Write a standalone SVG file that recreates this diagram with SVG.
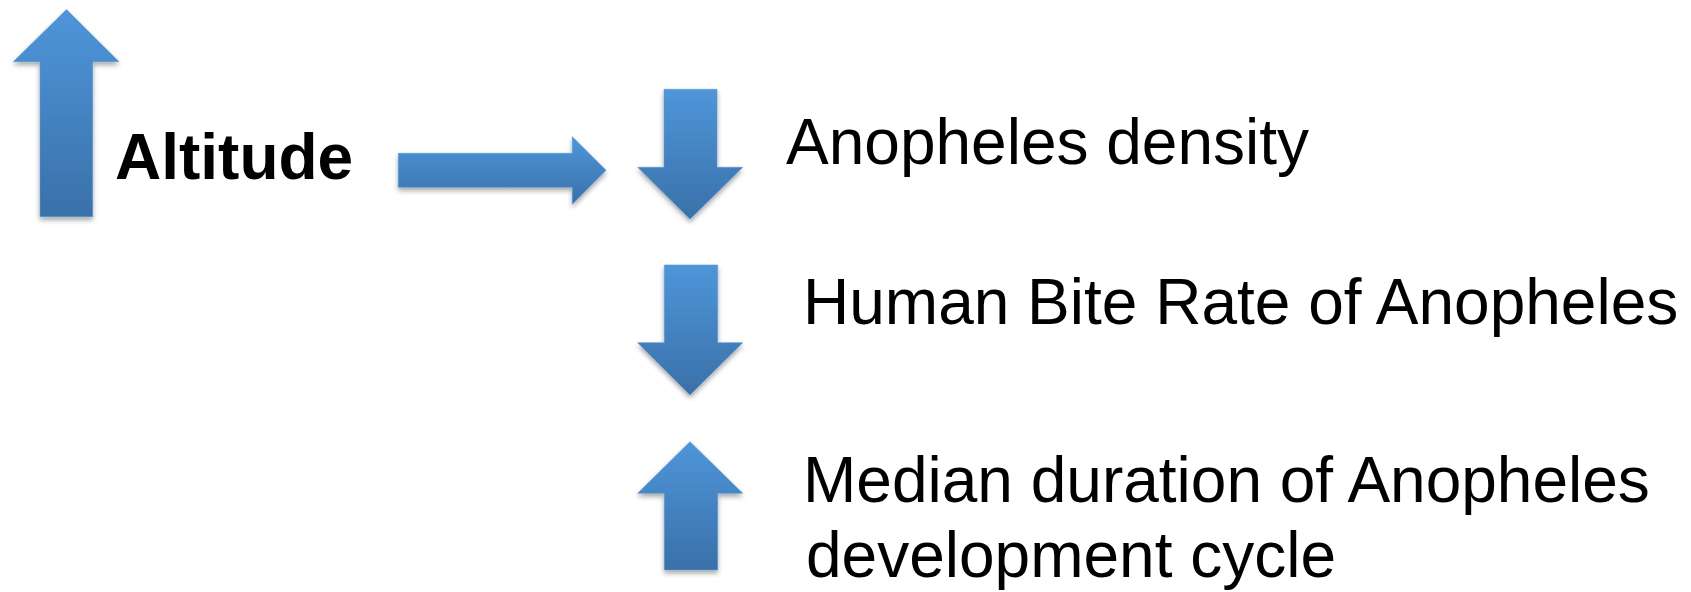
<svg xmlns="http://www.w3.org/2000/svg" width="1691" height="592" viewBox="0 0 1691 592">
  <defs>
    <linearGradient id="blue" x1="0" y1="0" x2="0" y2="1">
      <stop offset="0" stop-color="#4e96d9"/>
      <stop offset="1" stop-color="#3a70a9"/>
    </linearGradient>
    <filter id="shadow" x="-20%" y="-20%" width="140%" height="140%">
      <feDropShadow dx="0" dy="3" stdDeviation="2.5" flood-color="#000" flood-opacity="0.35"/>
    </filter>
  </defs>
  <style>
    .arrow { fill: url(#blue); stroke: #5b9bd5; stroke-width: 1; stroke-opacity: 0.6; filter: url(#shadow); }
    .label { font-family: "Liberation Sans", Arial, sans-serif; font-size: 64px; fill: #000; }
    .bold { font-weight: bold; }
  </style>
  <rect width="1691" height="592" fill="#fff"/>
  <g id="altitude">
    <polygon class="arrow" points="66.5,9.5 119,61.7 92.7,61.7 92.7,216.7 40,216.7 40,61.7 13.3,61.7"/>
    <text class="label bold" x="115" y="179">Altitude</text>
  </g>
  <g id="connectors">
    <polygon class="arrow" points="398.3,153.3 572.3,153.3 572.3,136.7 606,170.3 572.3,204.3 572.3,187.3 398.3,187.3"/>
  </g>
  <g id="density">
    <polygon class="arrow" points="664,89.3 717,89.3 717,167.3 742.7,167.3 690,219.3 637.7,167.3 664,167.3"/>
    <text class="label" x="786" y="164">Anopheles density</text>
  </g>
  <g id="biterate">
    <polygon class="arrow" points="664.3,265 717.7,265 717.7,342.7 742.7,342.7 690,395 637.7,342.7 664.3,342.7"/>
    <text class="label" x="803" y="324">Human Bite Rate of Anopheles</text>
  </g>
  <g id="duration">
    <polygon class="arrow" points="690,441.7 742.7,493.3 717.7,493.3 717.7,570 664.3,570 664.3,493.3 637.7,493.3"/>
    <text class="label" x="803" y="501.7">Median duration of Anopheles</text>
    <text class="label" x="806" y="577">development cycle</text>
  </g>
</svg>
